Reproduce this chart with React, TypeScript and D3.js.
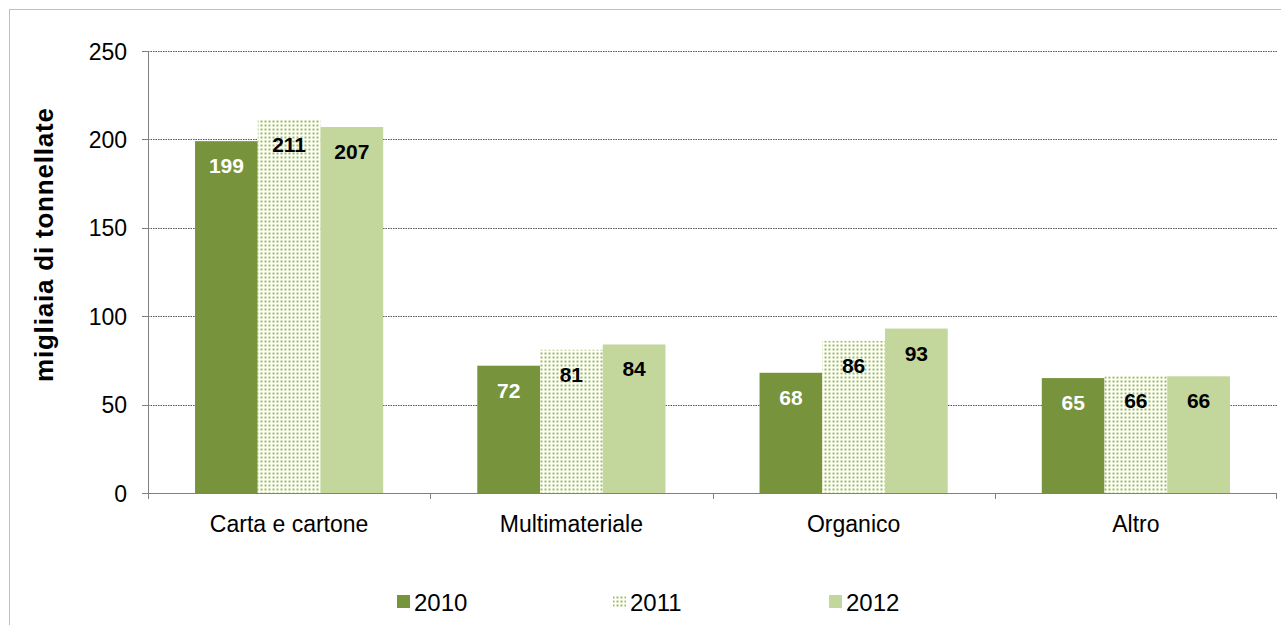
import React from "react";
import * as d3 from "d3";

const categories = ["Carta e cartone", "Multimateriale", "Organico", "Altro"];
const seriesNames = ["2010", "2011", "2012"];
const values2010 = [199, 72, 68, 65];
const values2011 = [211, 81, 86, 66];
const values2012 = [207, 84, 93, 66];
const yTicks = [0, 50, 100, 150, 200, 250];
const yTitle = "migliaia di tonnellate";

const W = 1281;
const H = 625;
const FONT = "'Liberation Sans', Arial, sans-serif";

export default function App() {
  const plotL = 148, plotR = 1277, plotT = 51, plotB = 493;
  const x0 = d3.scaleBand<string>().domain(categories).range([plotL, plotR]).paddingInner(0).paddingOuter(0);
  const x1 = d3.scaleBand<string>().domain(seriesNames).range([0, x0.bandwidth()]).paddingInner(0).paddingOuter(0.75);
  const y = d3.scaleLinear().domain([0, 250]).range([plotB, plotT]);
  const seriesVals = [values2010, values2011, values2012];
  const fills = ["#77933C", "url(#dots)", "#C3D69B"];
  const labelColors = ["#FFFFFF", "#000000", "#000000"];
  const legendX = [397, 613, 829];

  return (
    <svg width={W} height={H} style={{ position: "absolute", left: 0, top: 0, background: "#fff" }} fontFamily={FONT}>
      <defs>
        <pattern id="dots" width={4} height={4} patternUnits="userSpaceOnUse">
          <rect width={4} height={4} fill="#FFFFFF" />
          <rect x={0.5} y={0.5} width={2} height={2} fill="#9BBB59" />
        </pattern>
      </defs>
      <rect x={9.5} y={9.5} width={1300} height={700} fill="#fff" stroke="#BFBFBF" strokeWidth={1} />
      {/* gridlines */}
      {yTicks.filter(t => t > 0).map(t => (
        <line key={t} x1={plotL} x2={plotR} y1={Math.round(y(t)) + 0.5} y2={Math.round(y(t)) + 0.5}
          stroke="#555" strokeWidth={1} strokeDasharray="1.5,1" />
      ))}
      {/* bars */}
      {categories.map((c, ci) => (
        <g key={c}>
          {seriesNames.map((s, si) => {
            const v = seriesVals[si][ci];
            const bx = (x0(c) as number) + (x1(s) as number);
            const by = y(v);
            return (
              <g key={s}>
                <rect x={bx} y={by} width={x1.bandwidth()} height={plotB - by} fill={fills[si]} />
                <text x={bx + x1.bandwidth() / 2} y={by + 32} textAnchor="middle"
                  fontSize={21} fontWeight="bold" fill={labelColors[si]}>{v}</text>
              </g>
            );
          })}
        </g>
      ))}
      {/* y axis */}
      <line x1={plotL + 0.5} x2={plotL + 0.5} y1={plotT} y2={plotB} stroke="#808080" strokeWidth={1} />
      {yTicks.map(t => (
        <g key={t}>
          <line x1={plotL - 6} x2={plotL} y1={Math.round(y(t)) + 0.5} y2={Math.round(y(t)) + 0.5} stroke="#808080" />
          <text x={127} y={y(t) + 8.5} textAnchor="end" fontSize={23} fill="#000">{t}</text>
        </g>
      ))}
      {/* x axis */}
      <line x1={plotL - 6} x2={plotR} y1={plotB + 0.5} y2={plotB + 0.5} stroke="#808080" />
      {categories.map((c, ci) => (
        <line key={"t" + ci} x1={Math.round(x0(c) as number) + 0.5} x2={Math.round(x0(c) as number) + 0.5}
          y1={plotB} y2={plotB + 6} stroke="#808080" />
      ))}
      <line x1={plotR - 0.5} x2={plotR - 0.5} y1={plotB} y2={plotB + 6} stroke="#808080" />
      {categories.map(c => (
        <text key={c} x={(x0(c) as number) + x0.bandwidth() / 2} y={532} textAnchor="middle"
          fontSize={23} fill="#000">{c}</text>
      ))}
      {/* y title */}
      <text transform={`translate(53,245) rotate(-90)`} textAnchor="middle"
        fontSize={26} fontWeight="bold" fill="#000" textLength={274} lengthAdjust="spacing">{yTitle}</text>
      {/* legend */}
      {seriesNames.map((s, si) => (
        <g key={s}>
          <rect x={legendX[si]} y={595} width={13} height={13} fill={fills[si]} />
          <text x={legendX[si] + 17} y={611} fontSize={24} fill="#000">{s}</text>
        </g>
      ))}
    </svg>
  );
}
